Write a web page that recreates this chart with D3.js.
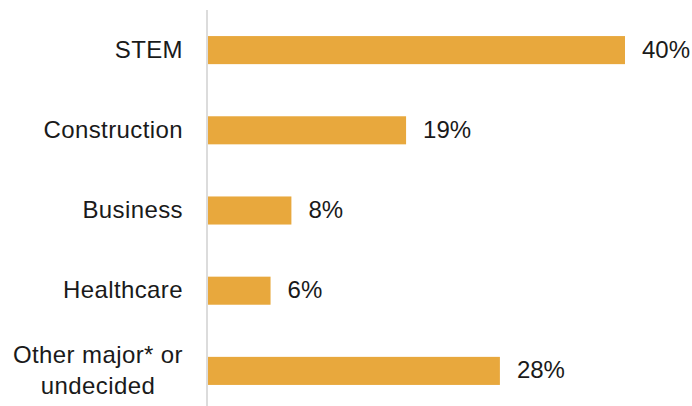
<!DOCTYPE html>
<html>
<head>
<meta charset="utf-8">
<script src="https://cdn.jsdelivr.net/npm/d3@7"></script>
<style>
  html, body { margin: 0; padding: 0; background: #fff; }
  svg { display: block; }
  text { font-family: "Liberation Sans", Arial, sans-serif; fill: #1a1a1a; }
</style>
</head>
<body>
<svg id="chart" width="692" height="406"></svg>
<script>
// Share of respondents by intended field of study
const categories = ["STEM", "Construction", "Business", "Healthcare", "Other major* or undecided"];
const labelLines = [["STEM"], ["Construction"], ["Business"], ["Healthcare"], ["Other major* or", "undecided"]];
const values = [40, 19, 8, 6, 28];
const valueLabels = ["40%", "19%", "8%", "6%", "28%"];

const width = 692, height = 406;
const axisX = 207;
const labelRight = 183;
const barColor = "#E8A83D";
const fontSize = 24;

const svg = d3.select("#chart");

const y = d3.scaleBand()
  .domain(categories)
  .range([10, 411])
  .paddingInner(0.65)
  .paddingOuter(0.325);

const x = d3.scaleLinear()
  .domain([0, 40])
  .range([axisX + 1, 625]);

// Vertical baseline
svg.append("line")
  .attr("x1", axisX).attr("x2", axisX)
  .attr("y1", 10).attr("y2", 406)
  .attr("stroke", "#dcdcdc")
  .attr("stroke-width", 2);

// Bars
svg.selectAll("rect.bar")
  .data(categories)
  .join("rect")
  .attr("class", "bar")
  .attr("x", x(0))
  .attr("y", d => y(d))
  .attr("width", (d, i) => x(values[i]) - x(0))
  .attr("height", y.bandwidth())
  .attr("fill", barColor);

// Value labels
svg.selectAll("text.value")
  .data(categories)
  .join("text")
  .attr("class", "value")
  .attr("x", (d, i) => x(values[i]) + 17)
  .attr("y", d => y(d) + y.bandwidth() / 2)
  .attr("dy", "0.31em")
  .style("font-size", fontSize + "px")
  .text((d, i) => valueLabels[i]);

// Category labels: block right-aligned to the axis, lines centred within the block
const lineHeight = 31;
const cat = svg.selectAll("text.cat")
  .data(categories)
  .join("text")
  .attr("class", "cat")
  .style("font-size", fontSize + "px")
  .style("letter-spacing", "0.4px");

cat.each(function(d, i) {
  const lines = labelLines[i];
  const cy = y(d) + y.bandwidth() / 2;
  const startY = cy - (lines.length - 1) * lineHeight / 2;
  const t = d3.select(this);
  const spans = t.selectAll("tspan")
    .data(lines)
    .join("tspan")
    .attr("y", (l, j) => startY + j * lineHeight)
    .attr("dy", "0.32em")
    .text(l => l);
  const maxW = d3.max(spans.nodes(), n => n.getComputedTextLength());
  t.attr("text-anchor", "middle");
  spans.attr("x", labelRight - maxW / 2);
});
</script>
</body>
</html>
